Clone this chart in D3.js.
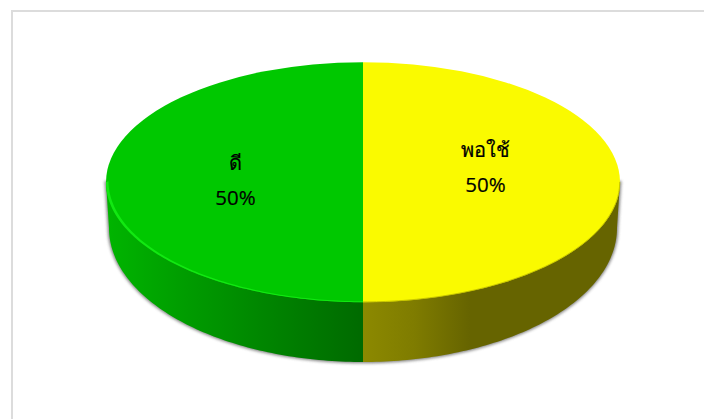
<!DOCTYPE html>
<html>
<head>
<meta charset="utf-8">
<script src="https://cdn.jsdelivr.net/npm/d3@7/dist/d3.min.js"></script>
<style>
  html, body { margin: 0; padding: 0; background: #fff; overflow: hidden; }
  svg { display: block; }
  text { font-family: "Open Sans", "Noto Sans", "DejaVu Sans", sans-serif; fill: #000; stroke: #000; stroke-width: 0.2px; }
</style>
</head>
<body>
<svg id="chart" width="704" height="419"></svg>
<script>
const categories = ["ดี", "พอใช้"];
const shares = [50, 50];
const topColors = ["#00c800", "#fafa00"];

const width = 704, height = 419;
const cx = 363, cy = 182.2, rx = 257, ry = 120;
// Lower rim of the disc: slightly narrower and deeper than the top face
const wallCy = 228, wallRx = 254, wallRy = 134;

const svg = d3.select("#chart");
const defs = svg.append("defs");

// Soft shadow behind the disc wall
const blur = defs.append("filter").attr("id", "soft")
  .attr("x", "-5%").attr("y", "-5%").attr("width", "110%").attr("height", "110%");
blur.append("feGaussianBlur").attr("stdDeviation", 1.4);

// Side wall shading, one gradient per slice
const wallStops = [
  [[0, "#00b400"], [0.25, "#00a000"], [0.6, "#008600"], [1, "#006a00"]],
  [[0, "#8c8900"], [0.2, "#7f7c00"], [0.42, "#666400"], [1, "#666400"]]
];
const wallRanges = [[cx - wallRx, cx], [cx, cx + wallRx]];
wallStops.forEach((stops, i) => {
  const g = defs.append("linearGradient").attr("id", "wall" + i)
    .attr("gradientUnits", "userSpaceOnUse")
    .attr("x1", wallRanges[i][0]).attr("x2", wallRanges[i][1])
    .attr("y1", 0).attr("y2", 0);
  stops.forEach(s => g.append("stop").attr("offset", s[0]).attr("stop-color", s[1]));
});

// Chart frame
svg.append("rect")
  .attr("x", 12).attr("y", 11).attr("width", 720).attr("height", 440)
  .attr("fill", "#fff").attr("stroke", "#dcdcdc").attr("stroke-width", 2);

// Slices start at 12 o'clock and run anticlockwise so the first is on the left
const pie = d3.pie().sort(null).value(d => d).startAngle(0).endAngle(-2 * Math.PI);
const slices = pie(shares);

// Outline of an ellipse stepped along a span of d3 angles
function rim(a0, a1, centreY, radiusX, radiusY) {
  const sx = d3.scaleLinear().domain([-1, 1]).range([cx - radiusX, cx + radiusX]);
  const sy = d3.scaleLinear().domain([-1, 1]).range([centreY - radiusY, centreY + radiusY]);
  return d3.range(0, 91).map(k => {
    const a = a0 + (a1 - a0) * k / 90;
    return [sx(Math.sin(a)), sy(-Math.cos(a))];
  });
}
const line = d3.line();

// Each slice's wall spans the lower quarter of the rim on its own side
const spans = slices.map(s => {
  const mid = (s.startAngle + s.endAngle) / 2;
  return mid > -Math.PI ? [-Math.PI / 2, -Math.PI] : [-Math.PI, -1.5 * Math.PI];
});

// Shadow follows the whole wall outline
svg.append("path")
  .attr("d", line(rim(-Math.PI / 2, -1.5 * Math.PI, wallCy, wallRx, wallRy)
    .concat([[cx + rx, cy], [cx - rx, cy]])) + "Z")
  .attr("fill", "#666")
  .attr("stroke", "#666")
  .attr("stroke-width", 2.6)
  .attr("opacity", 0.8)
  .attr("filter", "url(#soft)");

// Walls run from the disc's widest point down to the lower rim
spans.forEach((sp, i) => {
  const outer = sp[0] === -Math.PI / 2 ? cx - rx : cx + rx;
  const path = rim(sp[0], sp[1], wallCy, wallRx, wallRy);
  const pts = i === 0
    ? [[outer, cy]].concat(path, [[cx, cy]])
    : [[cx, cy]].concat(path, [[outer, cy]]);
  svg.append("path").attr("d", line(pts) + "Z").attr("fill", `url(#wall${i})`);
});

// Top faces, drawn by d3.arc and scaled into an ellipse
const arc = d3.arc().innerRadius(0).outerRadius(rx);
svg.append("g")
  .attr("transform", `translate(${cx},${cy}) scale(1,${ry / rx})`)
  .selectAll("path").data(slices).join("path")
  .attr("d", arc)
  .attr("fill", (d, i) => topColors[i]);

// Bright bevel along the lower left edge of the green face
const bevel = rim(-Math.PI / 2, -Math.PI, cy, rx, ry)
  .concat(rim(-Math.PI, -Math.PI / 2, cy - 1, rx - 2.5, ry));
svg.append("path")
  .attr("d", line(bevel) + "Z")
  .attr("fill", "#12e812");

// Darker soft edge along the lower right of the yellow face
svg.append("path")
  .attr("d", line(rim(-Math.PI, -1.5 * Math.PI, cy - 0.3, rx - 0.3, ry)))
  .attr("fill", "none").attr("stroke", "#c4c200").attr("stroke-width", 0.9);

// Data labels
const labelPos = [[235.5, 170, 204.5], [485.5, 156.5, 191.5]];
slices.forEach((s, i) => {
  svg.append("text").attr("x", labelPos[i][0]).attr("y", labelPos[i][1])
    .attr("text-anchor", "middle").attr("font-size", 20).text(categories[i]);
  svg.append("text").attr("x", labelPos[i][0]).attr("y", labelPos[i][2])
    .attr("text-anchor", "middle").attr("font-size", 20.5).text(shares[i] + "%");
});
</script>
</body>
</html>
